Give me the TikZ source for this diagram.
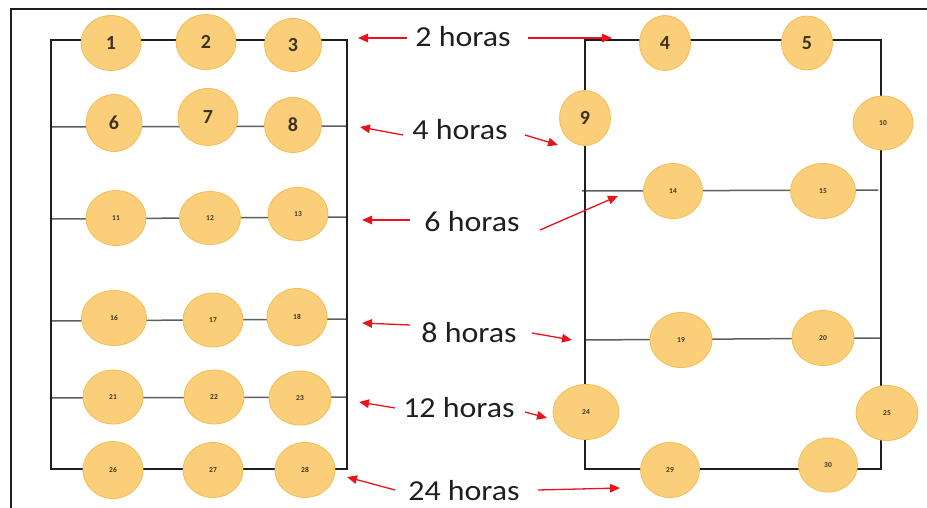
\documentclass[tikz,border=0pt]{standalone}
\usepackage{fontspec}
\setmainfont{Carlito}
\newfontfamily\lblfont[FakeStretch=1.1]{Carlito}
\usetikzlibrary{shapes.geometric,arrows.meta}

\definecolor{disc}{HTML}{FBCF7A}
\definecolor{discedge}{HTML}{F3BC55}
\definecolor{disctext}{HTML}{3E3322}
\definecolor{arrred}{HTML}{E8141C}
\definecolor{frame}{HTML}{1E1E1E}
\definecolor{rowline}{HTML}{5E5E5E}

\tikzset{
  pane/.style={line width=2.2pt, draw=frame, line cap=rect},
  rowwire/.style={line width=1.5pt, draw=rowline},
  disk/.style={ellipse, fill=disc, draw=discedge, line width=0.8pt,
    minimum width=60pt, minimum height=55pt, inner sep=0pt,
    text=disctext, font=\bfseries\fontsize{20}{20}\selectfont},
  small/.style={font=\bfseries\fontsize{7.5}{8}\selectfont},
  hours/.style={font=\lblfont\fontsize{29}{30}\selectfont, text=black!88,
    inner sep=0pt, anchor=base},
  arr/.style={draw=arrred, line width=1.3pt,
    -{Triangle[length=10pt,width=8.5pt]}, shorten >=0pt}
}

\begin{document}
\begin{tikzpicture}[x=1pt, y=-1pt]
\useasboundingbox (0,0) rectangle (927,508);

% outer frame (left and top edges)
\coordinate (fb) at (11,508);
\coordinate (fc) at (11,9);
\coordinate (fr) at (927,9);
\draw[line width=2pt, draw=frame] (fb) -- (fc) -- (fr);

% ---------- left block ----------
\coordinate (La) at (51,40);
\coordinate (Lb) at (347,40);
\coordinate (Lc) at (347,469);
\coordinate (Ld) at (51,469);
\coordinate (Lr1w) at (50,127);  \coordinate (Lr1e) at (347,126);
\coordinate (Lr2w) at (50,219);  \coordinate (Lr2e) at (347,217);
\coordinate (Lr3w) at (50,321);  \coordinate (Lr3e) at (347,319);
\coordinate (Lr4w) at (50,398);  \coordinate (Lr4e) at (347,397);
\draw[rowwire] (Lr1w) -- (Lr1e);
\draw[rowwire] (Lr2w) -- (Lr2e);
\draw[rowwire] (Lr3w) -- (Lr3e);
\draw[rowwire] (Lr4w) -- (Lr4e);
\draw[pane] (La) -- (Lb) -- (Lc) -- (Ld) -- cycle;

% ---------- right block ----------
\coordinate (Ra) at (585,40);
\coordinate (Rb) at (881,40);
\coordinate (Rc) at (881,469);
\coordinate (Rd) at (585,469);
\coordinate (Rr1w) at (582,191);  \coordinate (Rr1e) at (878,190);
\coordinate (Rr2w) at (585,340);  \coordinate (Rr2e) at (881,338);
\draw[rowwire] (Rr1w) -- (Rr1e);
\draw[rowwire] (Rr2w) -- (Rr2e);
\draw[pane] (Ra) -- (Rb) -- (Rc) -- (Rd) -- cycle;

% ---------- discs, left block ----------
\node[disk] (n1) at (111,43) {1};
\node[disk] (n2) at (206,42) {2};
\node[disk, minimum width=57pt, minimum height=53pt] (n3) at (293,45) {3};
\node[disk, minimum width=56pt, minimum height=57pt] (n6) at (114,123) {6};
\node[disk, minimum height=57pt] (n7) at (208,117) {7};
\node[disk, minimum width=57pt] (n8) at (293,125) {8};
\node[disk, small] (n11) at (116,218) {11};
\node[disk, small, minimum width=61pt, minimum height=53pt] (n12) at (210,218) {12};
\node[disk, small, minimum height=53pt] (n13) at (298,214) {13};
\node[disk, small, minimum width=65pt] (n16) at (114,318) {16};
\node[disk, small, minimum height=54pt] (n17) at (213,320) {17};
\node[disk, small, minimum height=57pt] (n18) at (297,317) {18};
\node[disk, small, minimum height=54pt] (n21) at (113,397) {21};
\node[disk, small, minimum height=54pt] (n22) at (214,397) {22};
\node[disk, small, minimum width=62pt, minimum height=54pt] (n23) at (300,398) {23};
\node[disk, small, minimum height=57pt] (n26) at (113,470) {26};
\node[disk, small] (n27) at (213,470) {27};
\node[disk, small] (n28) at (305,470) {28};

% ---------- discs, right block ----------
\node[disk, minimum width=51pt] (n4) at (665,43) {4};
\node[disk, minimum width=51pt, minimum height=54pt] (n5) at (807,43) {5};
\node[disk, minimum width=51pt] (n9) at (585,118) {9};
\node[disk, small, minimum height=54pt] (n10) at (883,123) {10};
\node[disk, small, minimum width=59pt] (n14) at (673,191) {14};
\node[disk, small, minimum width=65pt] (n15) at (823,191) {15};
\node[disk, small, minimum width=62pt] (n19) at (681,340) {19};
\node[disk, small, minimum width=62pt] (n20) at (823,338) {20};
\node[disk, small, minimum width=66pt] (n24) at (586,412) {24};
\node[disk, small, minimum width=62pt] (n25) at (887,413) {25};
\node[disk, small, minimum width=59pt] (n29) at (670,470) {29};
\node[disk, small, minimum width=59pt, minimum height=54pt] (n30) at (828,465) {30};

% ---------- time labels ----------
\node[hours] (h2)  at (463,47)  {2 horas};
\node[hours] (h4)  at (460,140) {4 horas};
\node[hours] (h6)  at (472,232) {6 horas};
\node[hours] (h8)  at (469,342) {8 horas};
\node[hours] (h12) at (459,417) {12 horas};
\node[hours] (h24) at (464,500) {24 horas};

% ---------- arrows ----------
\coordinate (s2l) at (407,38);   \coordinate (t2l) at (358,38);
\coordinate (s2r) at (528,38);   \coordinate (t2r) at (612,38);
\coordinate (s4l) at (403,135);  \coordinate (t4l) at (360,127);
\coordinate (s4r) at (525,135);  \coordinate (t4r) at (558,145);
\coordinate (s6l) at (410,220);  \coordinate (t6l) at (362,220);
\coordinate (s6r) at (540,230);  \coordinate (t6r) at (618,196);
\coordinate (s8l) at (410,325);  \coordinate (t8l) at (362,323);
\coordinate (s8r) at (532,333);  \coordinate (t8r) at (572,340);
\coordinate (s12l) at (395,408); \coordinate (t12l) at (359,402);
\coordinate (s12r) at (525,412); \coordinate (t12r) at (547,418);
\coordinate (s24l) at (395,490); \coordinate (t24l) at (347,477);
\coordinate (s24r) at (538,490); \coordinate (t24r) at (620,488);

\draw[arr] (s2l) -- (t2l);
\draw[arr] (s2r) -- (t2r);
\draw[arr] (s4l) -- (t4l);
\draw[arr] (s4r) -- (t4r);
\draw[arr] (s6l) -- (t6l);
\draw[arr] (s6r) -- (t6r);
\draw[arr] (s8l) -- (t8l);
\draw[arr] (s8r) -- (t8r);
\draw[arr] (s12l) -- (t12l);
\draw[arr] (s12r) -- (t12r);
\draw[arr] (s24l) -- (t24l);
\draw[arr] (s24r) -- (t24r);
\end{tikzpicture}
\end{document}
